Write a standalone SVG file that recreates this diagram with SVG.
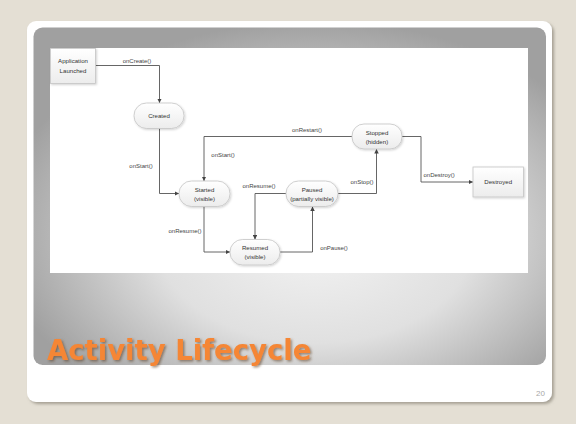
<svg xmlns="http://www.w3.org/2000/svg" width="576" height="424" viewBox="0 0 576 424">
<defs>
  <radialGradient id="panelGrad" cx="55%" cy="60%" r="62%" fx="55%" fy="65%">
    <stop offset="0" stop-color="#f2f2f2"/>
    <stop offset="0.5" stop-color="#e0e0e0"/>
    <stop offset="1" stop-color="#a0a0a0"/>
  </radialGradient>
  <linearGradient id="nodeGrad" x1="0" y1="0" x2="0" y2="1">
    <stop offset="0" stop-color="#ffffff"/>
    <stop offset="1" stop-color="#ececec"/>
  </linearGradient>
  <filter id="cardShadow" x="-5%" y="-5%" width="110%" height="110%">
    <feDropShadow dx="2" dy="2" stdDeviation="1.5" flood-color="#7a7468" flood-opacity="0.6"/>
  </filter>
  <filter id="nodeShadow" x="-20%" y="-20%" width="140%" height="140%">
    <feDropShadow dx="1" dy="1" stdDeviation="0.8" flood-color="#000" flood-opacity="0.18"/>
  </filter>
  <filter id="titleShadow" x="-5%" y="-20%" width="110%" height="140%">
    <feDropShadow dx="1.5" dy="1.5" stdDeviation="1" flood-color="#5a3a1a" flood-opacity="0.55"/>
  </filter>
  <marker id="arrow" viewBox="0 0 10 10" refX="10" refY="5" markerWidth="4.5" markerHeight="4.5" orient="auto" markerUnits="userSpaceOnUse">
    <path d="M0,0 L10,5 L0,10 z" fill="#444"/>
  </marker>
</defs>
<style>
  .node { fill: url(#nodeGrad); stroke: #c4c4c4; stroke-width: 0.8; filter: url(#nodeShadow); }
  .ntext { font-family: "Liberation Sans", Arial, sans-serif; font-size: 6.1px; fill: #333; text-anchor: middle; }
  .ltext { font-family: "Liberation Sans", Arial, sans-serif; font-size: 6px; fill: #444; }
  .conn { fill: none; stroke: #555; stroke-width: 0.9; marker-end: url(#arrow); }
</style>

<rect x="0" y="0" width="576" height="424" fill="#e4dfd4"/>
<rect x="27" y="21" width="525" height="381" rx="9" fill="#ffffff" filter="url(#cardShadow)"/>
<rect x="33.5" y="27.5" width="512.5" height="337.5" rx="9" fill="url(#panelGrad)"/>
<rect x="50" y="48" width="478" height="225" fill="#ffffff"/>

<g id="connectors">
  <path class="conn" d="M95.5,65.5 H159.5 V103"/>
  <path class="conn" d="M159.5,128.5 V193.5 H179"/>
  <path class="conn" d="M352,136.5 H204 V181"/>
  <path class="conn" d="M204,206.5 V252 H230"/>
  <path class="conn" d="M280,252 H312.5 V206.5"/>
  <path class="conn" d="M286,193.5 H255 V239.5"/>
  <path class="conn" d="M338,193.5 H376.5 V149"/>
  <path class="conn" d="M402,136.5 H421 V182 H473"/>
  <text class="ltext" x="137" y="63" text-anchor="middle">onCreate()</text>
  <text class="ltext" x="141" y="168" text-anchor="middle">onStart()</text>
  <text class="ltext" x="223" y="157" text-anchor="middle">onStart()</text>
  <text class="ltext" x="307" y="132" text-anchor="middle">onRestart()</text>
  <text class="ltext" x="362" y="184" text-anchor="middle">onStop()</text>
  <text class="ltext" x="423.5" y="177">onDestroy()</text>
  <text class="ltext" x="259" y="188" text-anchor="middle">onResume()</text>
  <text class="ltext" x="185" y="233" text-anchor="middle">onResume()</text>
  <text class="ltext" x="334" y="250" text-anchor="middle">onPause()</text>
</g>

<g id="node-launched">
  <rect class="node" x="50.5" y="48.5" width="45" height="35"/>
  <text class="ntext" x="73" y="63">Application</text>
  <text class="ntext" x="73" y="73">Launched</text>
</g>
<g id="node-created">
  <rect class="node" x="134" y="103" width="50" height="25.5" rx="12.5"/>
  <text class="ntext" x="159" y="117.8">Created</text>
</g>
<g id="node-stopped">
  <rect class="node" x="352" y="124" width="50" height="25" rx="12"/>
  <text class="ntext" x="377" y="134.5">Stopped</text>
  <text class="ntext" x="377" y="143.5">(hidden)</text>
</g>
<g id="node-started">
  <rect class="node" x="179" y="181" width="51" height="25.5" rx="12.5"/>
  <text class="ntext" x="204.5" y="191.5">Started</text>
  <text class="ntext" x="204.5" y="200.5">(visible)</text>
</g>
<g id="node-paused">
  <rect class="node" x="286" y="181" width="52" height="25.5" rx="12.5"/>
  <text class="ntext" x="312" y="191.5">Paused</text>
  <text class="ntext" x="312" y="200.5">(partially visible)</text>
</g>
<g id="node-resumed">
  <rect class="node" x="230" y="239.5" width="50" height="25.5" rx="12.5"/>
  <text class="ntext" x="255" y="250">Resumed</text>
  <text class="ntext" x="255" y="259">(visible)</text>
</g>
<g id="node-destroyed">
  <rect class="node" x="473" y="167" width="50.5" height="30"/>
  <text class="ntext" x="498.2" y="184">Destroyed</text>
</g>

<text x="47" y="360" font-family="'DejaVu Sans', Verdana, sans-serif" font-weight="bold" font-size="27.5" fill="#f58634" filter="url(#titleShadow)">Activity Lifecycle</text>
<text x="545" y="396" font-family="'Liberation Sans', Arial, sans-serif" font-size="8" fill="#a8a8a8" text-anchor="end">20</text>
</svg>
